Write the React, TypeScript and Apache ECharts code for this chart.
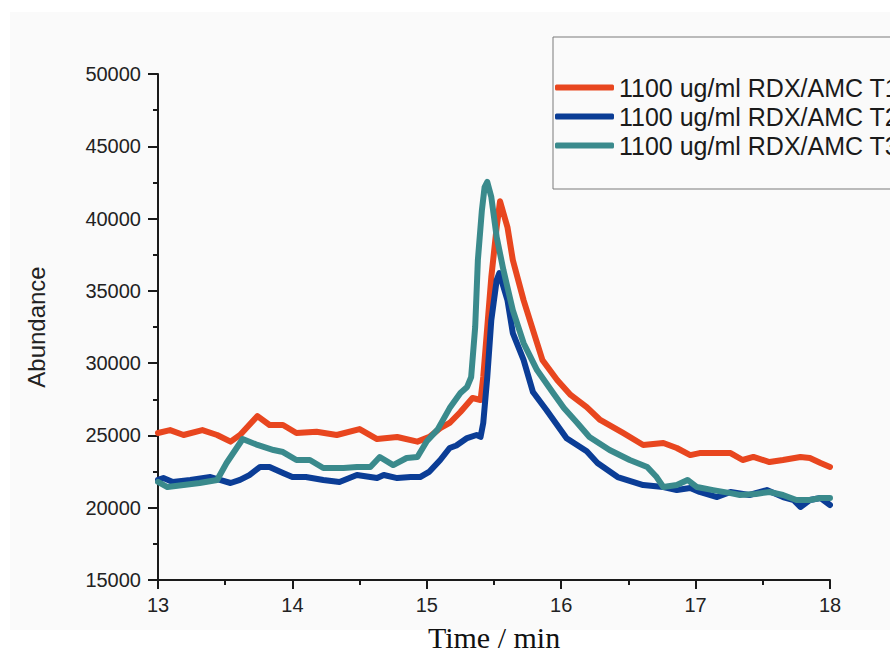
import React, { useEffect, useRef } from "react";
import * as echarts from "echarts";

const seriesNames = ["1100 ug/ml RDX/AMC T1", "1100 ug/ml RDX/AMC T2", "1100 ug/ml RDX/AMC T3"];
const seriesColors = ["#e8461f", "#0b3d96", "#3a8a8c"];

const t1Times = [13.0, 13.09, 13.19, 13.33, 13.44, 13.54, 13.61, 13.74, 13.83, 13.93, 14.03, 14.18, 14.33, 14.5, 14.63, 14.78, 14.93, 15.02, 15.1, 15.17, 15.25, 15.34, 15.4, 15.42, 15.45, 15.48, 15.52, 15.545, 15.6, 15.64, 15.72, 15.79, 15.86, 15.97, 16.07, 16.19, 16.29, 16.46, 16.61, 16.76, 16.86, 16.96, 17.03, 17.18, 17.26, 17.35, 17.43, 17.55, 17.65, 17.78, 17.85, 17.93, 18.0];
const t1Values = [25170, 25370, 25030, 25370, 25030, 24570, 25030, 26340, 25720, 25720, 25170, 25260, 25030, 25440, 24750, 24890, 24570, 24900, 25500, 25860, 26620, 27590, 27450, 29040, 32500, 35950, 39410, 41200, 39410, 37130, 34360, 32290, 30220, 28830, 27800, 26960, 26070, 25170, 24340, 24480, 24130, 23640, 23780, 23780, 23780, 23300, 23510, 23160, 23300, 23510, 23440, 23090, 22820];

const t2Times = [13.0, 13.04, 13.11, 13.24, 13.39, 13.46, 13.54, 13.61, 13.68, 13.76, 13.83, 13.93, 14.0, 14.1, 14.23, 14.35, 14.48, 14.63, 14.68, 14.78, 14.88, 14.95, 15.02, 15.1, 15.17, 15.22, 15.3, 15.37, 15.4, 15.42, 15.45, 15.48, 15.52, 15.54, 15.6, 15.64, 15.72, 15.79, 15.89, 16.04, 16.19, 16.27, 16.42, 16.61, 16.76, 16.86, 16.96, 17.03, 17.16, 17.26, 17.4, 17.53, 17.65, 17.73, 17.78, 17.85, 17.93, 18.0];
const t2Values = [21920, 22050, 21780, 21920, 22120, 21920, 21710, 21920, 22260, 22820, 22820, 22400, 22120, 22120, 21920, 21780, 22260, 22050, 22260, 22050, 22120, 22120, 22500, 23300, 24130, 24300, 24820, 25030, 24900, 25860, 29040, 32980, 35750, 36230, 34360, 32080, 30220, 28000, 26760, 24800, 23900, 23090, 22120, 21570, 21430, 21220, 21360, 21090, 20740, 21090, 20880, 21220, 20740, 20530, 20050, 20530, 20670, 20190];

const t3Times = [13.0, 13.07, 13.19, 13.31, 13.44, 13.51, 13.59, 13.63, 13.74, 13.86, 13.93, 14.03, 14.13, 14.23, 14.38, 14.48, 14.58, 14.65, 14.75, 14.85, 14.93, 15.0, 15.08, 15.17, 15.25, 15.3, 15.33, 15.36, 15.38, 15.41, 15.43, 15.45, 15.48, 15.52, 15.57, 15.64, 15.72, 15.82, 15.94, 16.02, 16.12, 16.21, 16.36, 16.51, 16.64, 16.71, 16.76, 16.86, 16.94, 17.01, 17.13, 17.26, 17.33, 17.45, 17.55, 17.65, 17.75, 17.85, 17.93, 18.0];
const t3Values = [21780, 21430, 21570, 21710, 21920, 23090, 24200, 24750, 24340, 23990, 23850, 23300, 23300, 22750, 22750, 22820, 22820, 23510, 22950, 23440, 23510, 24600, 25400, 26890, 27930, 28350, 29040, 32500, 37130, 40590, 42180, 42530, 41490, 38720, 36440, 33670, 31390, 29520, 27930, 26890, 25860, 24890, 23990, 23300, 22820, 22120, 21430, 21570, 21920, 21430, 21220, 21010, 20880, 20950, 21090, 20880, 20530, 20530, 20670, 20670];

const xTicks = { min: 13, max: 18, interval: 1 };
const yTicks = { min: 15000, max: 50000, interval: 5000 };

const zip = (t: number[], v: number[]) => t.map((x, i) => [x, v[i]]);

export default function App() {
  const ref = useRef<HTMLDivElement>(null);
  useEffect(() => {
    if (!ref.current) return;
    const chart = echarts.init(ref.current, null, { renderer: "svg" });
    const sans = "'Liberation Sans', Arial, sans-serif";
    const serif = "'Liberation Serif', 'Times New Roman', serif";
    const axisLine = { show: true, lineStyle: { color: "#1a1a1a", width: 2 } };
    const datasets = [zip(t1Times, t1Values), zip(t2Times, t2Values), zip(t3Times, t3Values)];
    chart.setOption({
      animation: false,
      backgroundColor: "#ffffff",
      graphic: [
        {
          type: "rect",
          z: -10,
          silent: true,
          shape: { x: 10, y: 12, width: 880, height: 618 },
          style: { fill: "#fafafa" },
        },
      ],
      grid: { left: 158, right: 60, top: 74, bottom: 73, containLabel: false, outerBoundsMode: "none" },
      legend: {
        orient: "vertical",
        left: 553,
        top: 37,
        padding: [38, 40, 31, 2],
        itemGap: 4,
        itemWidth: 59,
        itemHeight: 6,
        icon: "roundRect",
        borderColor: "#7a7a7a",
        borderWidth: 1,
        data: seriesNames,
        textStyle: { fontFamily: sans, fontSize: 25, color: "#1a1a1a", lineHeight: 24 },
      },
      xAxis: {
        type: "value",
        min: xTicks.min,
        max: xTicks.max,
        interval: xTicks.interval,
        name: "Time / min",
        nameLocation: "middle",
        nameGap: 42,
        nameTextStyle: { fontFamily: serif, fontSize: 30, color: "#111", lineHeight: 30 },
        axisLine,
        axisTick: { show: true, inside: false, length: 9, lineStyle: { color: "#1a1a1a", width: 2 } },
        minorTick: { show: true, splitNumber: 2, length: 5, lineStyle: { color: "#1a1a1a", width: 2 } },
        splitLine: { show: false },
        axisLabel: { fontFamily: sans, fontSize: 20, color: "#222", margin: 15, formatter: (v: number) => String(v) },
      },
      yAxis: {
        type: "value",
        min: yTicks.min,
        max: yTicks.max,
        interval: yTicks.interval,
        name: "Abundance",
        nameLocation: "middle",
        nameGap: 110,
        nameTextStyle: { fontFamily: sans, fontSize: 24, color: "#222" },
        axisLine,
        axisTick: { show: true, inside: false, length: 10, lineStyle: { color: "#1a1a1a", width: 2 } },
        minorTick: { show: true, splitNumber: 2, length: 5, lineStyle: { color: "#1a1a1a", width: 2 } },
        splitLine: { show: false },
        axisLabel: { fontFamily: sans, fontSize: 20, color: "#222", margin: 17, formatter: (v: number) => String(v) },
      },
      series: seriesNames.map((name, i) => ({
        name,
        type: "line",
        data: datasets[i],
        showSymbol: false,
        symbol: "none",
        color: seriesColors[i],
        lineStyle: { color: seriesColors[i], width: 6, join: "round", cap: "round" },
        itemStyle: { color: seriesColors[i] },
      })),
    });
    return () => chart.dispose();
  }, []);
  return (
    <div
      ref={ref}
      style={{ position: "absolute", left: 0, top: 0, width: 890, height: 653 }}
    />
  );
}
